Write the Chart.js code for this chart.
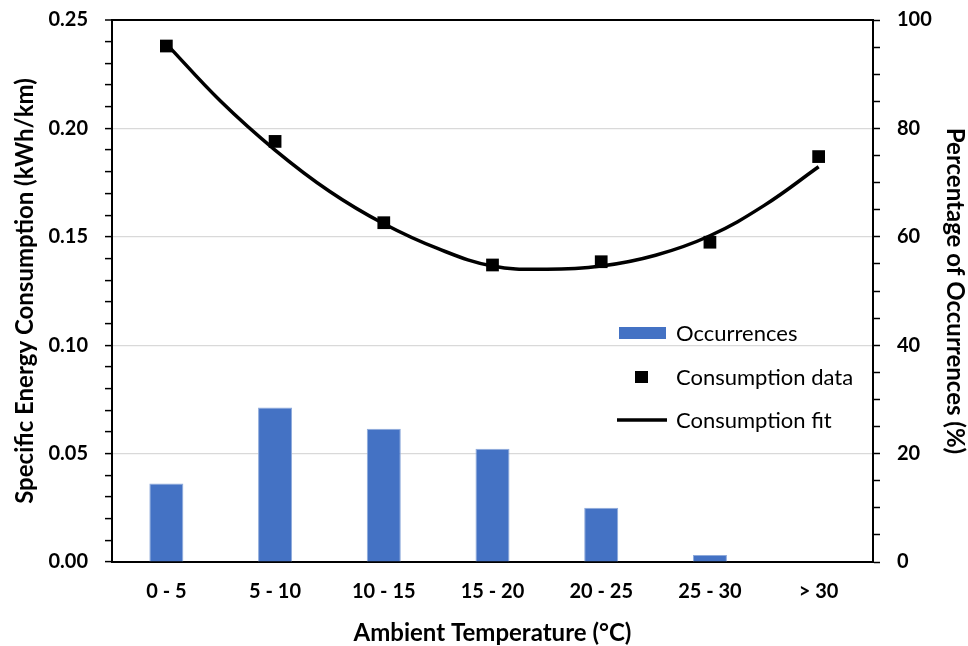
<!DOCTYPE html>
<html>
<head>
<meta charset="utf-8">
<script src="https://cdn.jsdelivr.net/npm/chart.js@4.4.1/dist/chart.umd.min.js"></script>
<style>
  html, body { margin: 0; padding: 0; background: #ffffff; }
  #wrap { width: 968px; height: 646px; }
</style>
</head>
<body>
<div id="wrap"><canvas id="c"></canvas></div>
<script>
// Temperature bins
const categories = ['0 - 5', '5 - 10', '10 - 15', '15 - 20', '20 - 25', '25 - 30', '> 30'];
// Share of trips in each bin (%)
const occurrences = [14.5, 28.5, 24.6, 20.9, 10.0, 1.3, 0.1];
// Measured specific energy consumption (kWh/km)
const consumption = [0.238, 0.194, 0.1565, 0.137, 0.1385, 0.1475, 0.187];
// Trend curve, sampled at bin positions (0 = first bin)
const fitPositions = [0, 0.5, 1, 1.5, 2, 2.5, 3, 3.5, 4, 4.5, 5, 5.5, 6];
const fitValues = [0.239, 0.2125, 0.190, 0.171, 0.156, 0.1445, 0.1365, 0.135, 0.1365, 0.1415, 0.1505, 0.1645, 0.1823];
// Axis tick labels
const leftTickLabels = ['0.00', '0.05', '0.10', '0.15', '0.20', '0.25'];
const rightTickLabels = ['0', '20', '40', '60', '80', '100'];
const leftMinorStep = 0.01;
const rightMinorStep = 5;

const BLUE = '#4472C4';
const GRID = '#d9d9d9';
const TICK_FONT = { family: 'Lato', size: 20, weight: 'bold' };
const TITLE_FONT = { family: 'Lato', size: 24, weight: 'bold', lineHeight: 1 };

function majorLabel(value, labels) {
  const hit = labels.find(l => Math.abs(parseFloat(l) - value) < 1e-9);
  return hit === undefined ? '' : hit;
}

// Drop the label overhang padding so the plot box sits exactly inside the layout padding
function trimPadding(scale) {
  scale.paddingTop = 0;
  scale.paddingBottom = 0;
  scale.paddingLeft = 0;
  scale.paddingRight = 0;
}

// Legend drawn inside the plot, right of centre
const insideLegend = {
  id: 'insideLegend',
  afterDatasetsDraw(chart) {
    const ctx = chart.ctx;
    const ds = chart.data.datasets;
    const rows = [333, 377, 420];
    const textX = 676;
    ctx.save();
    ctx.fillStyle = ds[0].backgroundColor;
    ctx.fillRect(619, rows[0] - 6, 47, 12);
    ctx.fillStyle = ds[1].pointBackgroundColor;
    ctx.fillRect(635, rows[1] - 6, 13, 12);
    ctx.strokeStyle = ds[2].borderColor;
    ctx.lineWidth = 3.5;
    ctx.beginPath();
    ctx.moveTo(617, rows[2]);
    ctx.lineTo(667, rows[2]);
    ctx.stroke();
    ctx.fillStyle = '#000';
    ctx.font = '22px Lato';
    ctx.textBaseline = 'middle';
    ctx.textAlign = 'left';
    ds.forEach((d, i) => ctx.fillText(d.label, textX, rows[i] + 1));
    ctx.restore();
  }
};

new Chart(document.getElementById('c'), {
  type: 'bar',
  data: {
    labels: categories,
    datasets: [
      {
        type: 'bar',
        label: 'Occurrences',
        data: occurrences,
        backgroundColor: BLUE,
        borderColor: '#8eaadb',
        borderWidth: { top: 1, left: 1, right: 1, bottom: 0 },
        xAxisID: 'x',
        yAxisID: 'y2',
        grouped: false,
        barPercentage: 0.313,
        categoryPercentage: 1.0,
        order: 3
      },
      {
        type: 'line',
        label: 'Consumption data',
        data: consumption,
        showLine: false,
        pointStyle: 'rect',
        pointRadius: 9,
        pointHoverRadius: 9,
        pointBorderWidth: 0,
        pointBackgroundColor: '#000',
        borderColor: '#000',
        xAxisID: 'x',
        yAxisID: 'y',
        order: 1
      },
      {
        type: 'line',
        label: 'Consumption fit',
        data: fitPositions.map((p, i) => ({ x: p, y: fitValues[i] })),
        borderColor: '#000',
        borderWidth: 3.5,
        pointRadius: 0,
        tension: 0.4,
        fill: false,
        xAxisID: 'xf',
        yAxisID: 'y',
        order: 2
      }
    ]
  },
  options: {
    responsive: true,
    maintainAspectRatio: false,
    animation: false,
    layout: { padding: { top: 20, left: 0, right: 0, bottom: 0 } },
    plugins: {
      legend: { display: false },
      tooltip: { enabled: false }
    },
    scales: {
      x: {
        type: 'category',
        position: 'bottom',
        offset: true,
        grid: { display: true, drawOnChartArea: false, drawTicks: false },
        border: { display: true, color: '#000', width: 2 },
        ticks: { color: '#000', font: TICK_FONT, padding: 18, maxRotation: 0, autoSkip: false },
        title: {
          display: true,
          text: 'Ambient Temperature (°C)',
          color: '#000',
          font: TITLE_FONT,
          padding: { top: 0, bottom: 1 }
        },
        afterFit(scale) { scale.height = 84; trimPadding(scale); }
      },
      xf: {
        type: 'linear',
        display: false,
        offset: false,
        min: -0.5,
        max: 6.5
      },
      y: {
        type: 'linear',
        position: 'left',
        min: 0,
        max: 0.25,
        ticks: {
          stepSize: leftMinorStep,
          autoSkip: false,
          color: '#000',
          font: TICK_FONT,
          padding: 17,
          callback: v => majorLabel(v, leftTickLabels)
        },
        grid: {
          color: ctx => {
            const v = ctx.tick.value;
            if (Math.abs(v - 0.25) < 1e-9 || Math.abs(v) < 1e-9) return '#000';
            return majorLabel(v, leftTickLabels) ? GRID : 'rgba(0,0,0,0)';
          },
          lineWidth: ctx => (Math.abs(ctx.tick.value - 0.25) < 1e-9 ? 2 : 1.2),
          tickColor: '#000',
          tickWidth: 1.5,
          tickLength: 7
        },
        border: { display: true, color: '#000', width: 2 },
        title: {
          display: true,
          text: 'Specific Energy Consumption (kWh/km)',
          color: '#000',
          font: TITLE_FONT,
          padding: { top: 13, bottom: 0 }
        },
        afterFit(scale) { scale.width = 112; trimPadding(scale); }
      },
      y2: {
        type: 'linear',
        position: 'right',
        min: 0,
        max: 100,
        ticks: {
          stepSize: rightMinorStep,
          autoSkip: false,
          color: '#000',
          font: TICK_FONT,
          padding: 17,
          callback: v => majorLabel(v, rightTickLabels)
        },
        grid: {
          drawOnChartArea: false,
          tickColor: '#000',
          tickWidth: 1.5,
          tickLength: 7
        },
        border: { display: true, color: '#000', width: 2 },
        title: {
          display: true,
          text: 'Percentage of Occurrences (%)',
          color: '#000',
          font: TITLE_FONT,
          padding: { top: 1, bottom: 0 }
        },
        afterFit(scale) { scale.width = 95; trimPadding(scale); }
      }
    }
  },
  plugins: [insideLegend]
});
</script>
</body>
</html>
